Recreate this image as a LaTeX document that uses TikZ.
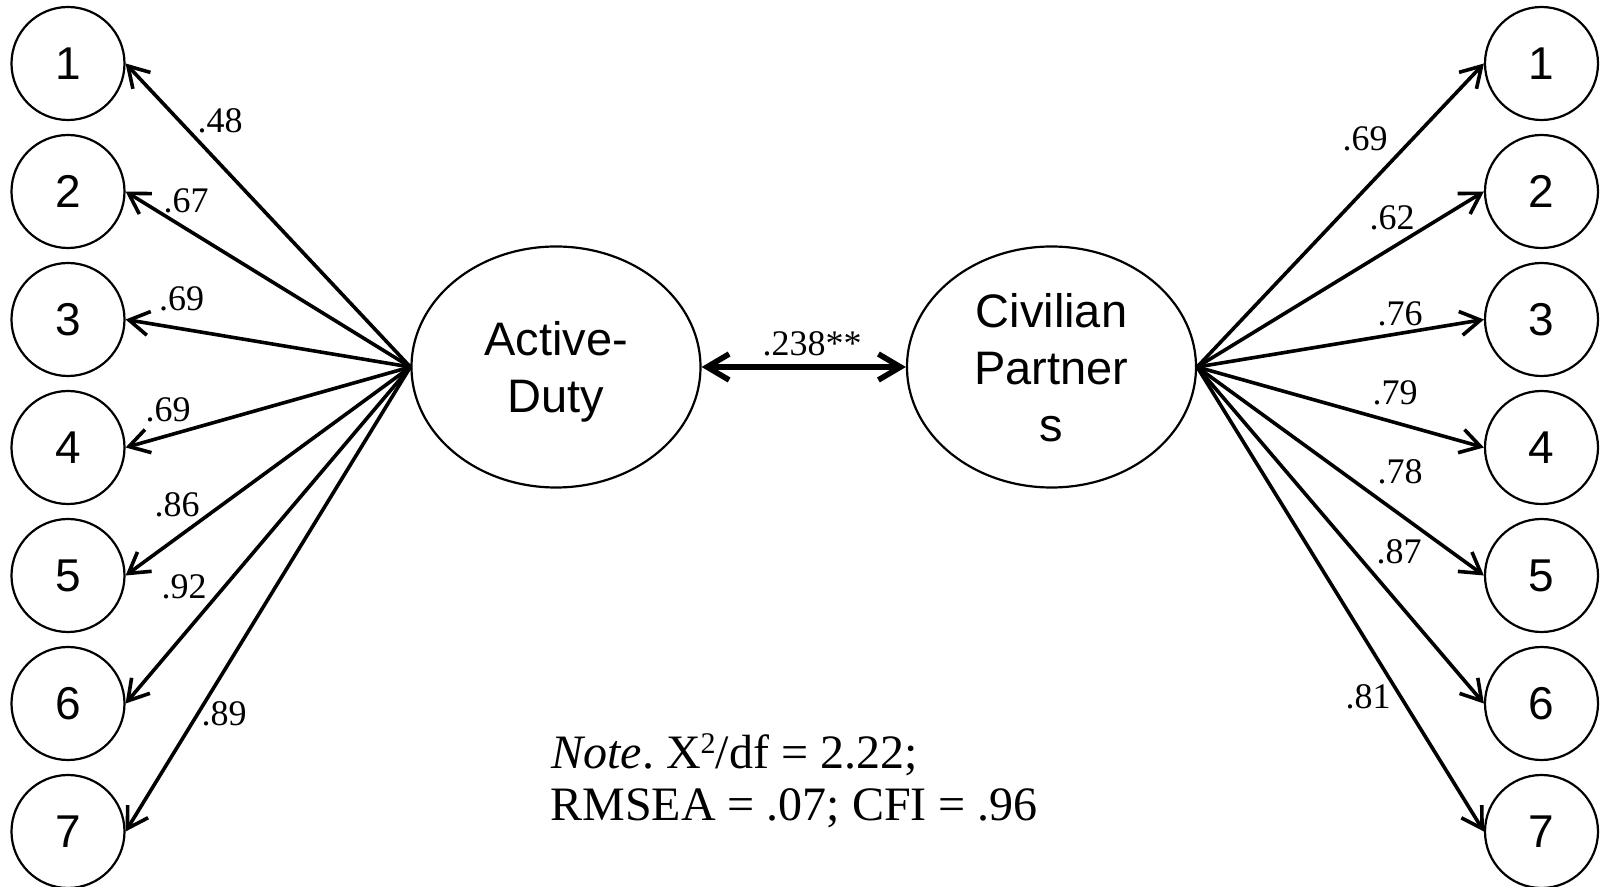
\documentclass[tikz,border=0pt]{standalone}
\usepackage{fontspec}
\setmainfont{Liberation Serif}
\newfontfamily\arialf{Liberation Sans}
\usetikzlibrary{arrows.meta,shapes.geometric}
\begin{document}
\begin{tikzpicture}[x=0.5pt,y=-0.5pt,
 item/.style={circle,draw,line width=1.1pt,minimum size=56.5pt,inner sep=0pt,font=\arialf\fontsize{23}{27}\selectfont},
 latent/.style={ellipse,draw,line width=1.1pt,minimum width=144.5pt,minimum height=120.5pt,inner sep=0pt,align=center,text depth=0pt,font=\arialf\fontsize{23.5}{28.5}\selectfont},
 load/.style={line width=1.8pt,-{Straight Barb[length=10pt,width=12pt]}},
 cov/.style={line width=2.8pt,{Straight Barb[length=11pt,width=13pt]}-{Straight Barb[length=11pt,width=13pt]}},
 coef/.style={font=\fontsize{18}{21}\selectfont,inner sep=0pt},
 notetext/.style={font=\fontsize{24}{28}\selectfont\frenchspacing,inner sep=0pt,anchor=base west}
]
\useasboundingbox (0,0) rectangle (1602,887);
\foreach \i in {1,...,7} {
  \node[item] (L\i) at (68,{63.5+128*(\i-1)}) {\i};
  \node[item] (R\i) at (1541.5,{63.5+128*(\i-1)}) {\i};
}
\node[latent] (AD) at (556,367) {Active-\\Duty};
\node[latent] (CP) at (1051.5,367) {Civilian\\Partner\\s};
\foreach \i in {1,...,7} {
  \draw[load] (AD.west) -- (L\i.east);
  \draw[load] (CP.east) -- (R\i.west);
}
\draw[cov] (AD.east) -- (CP.west);
% loadings, left
\node[coef] (a1) at (220,121) {.48};
\node[coef] (a2) at (186,201) {.67};
\node[coef] (a3) at (181.5,299) {.69};
\node[coef] (a4) at (168,410) {.69};
\node[coef] (a5) at (177,505) {.86};
\node[coef] (a6) at (184,587) {.92};
\node[coef] (a7) at (224,714) {.89};
% loadings, right
\node[coef] (b1) at (1365,139) {.69};
\node[coef] (b2) at (1392,218) {.62};
\node[coef] (b3) at (1400,314) {.76};
\node[coef] (b4) at (1395,393) {.79};
\node[coef] (b5) at (1400,472) {.78};
\node[coef] (b6) at (1399,552) {.87};
\node[coef] (b7) at (1368,697) {.81};
\node[coef] (c) at (812,344) {.238**};
\node[notetext] (n1) at (551,768) {\textit{Note}. X\raisebox{0.3em}{\fontsize{15}{18}\selectfont 2}/df = 2.22;};
\node[notetext] (n2) at (550,820) {RMSEA = .07; CFI = .96};
\end{tikzpicture}
\end{document}
